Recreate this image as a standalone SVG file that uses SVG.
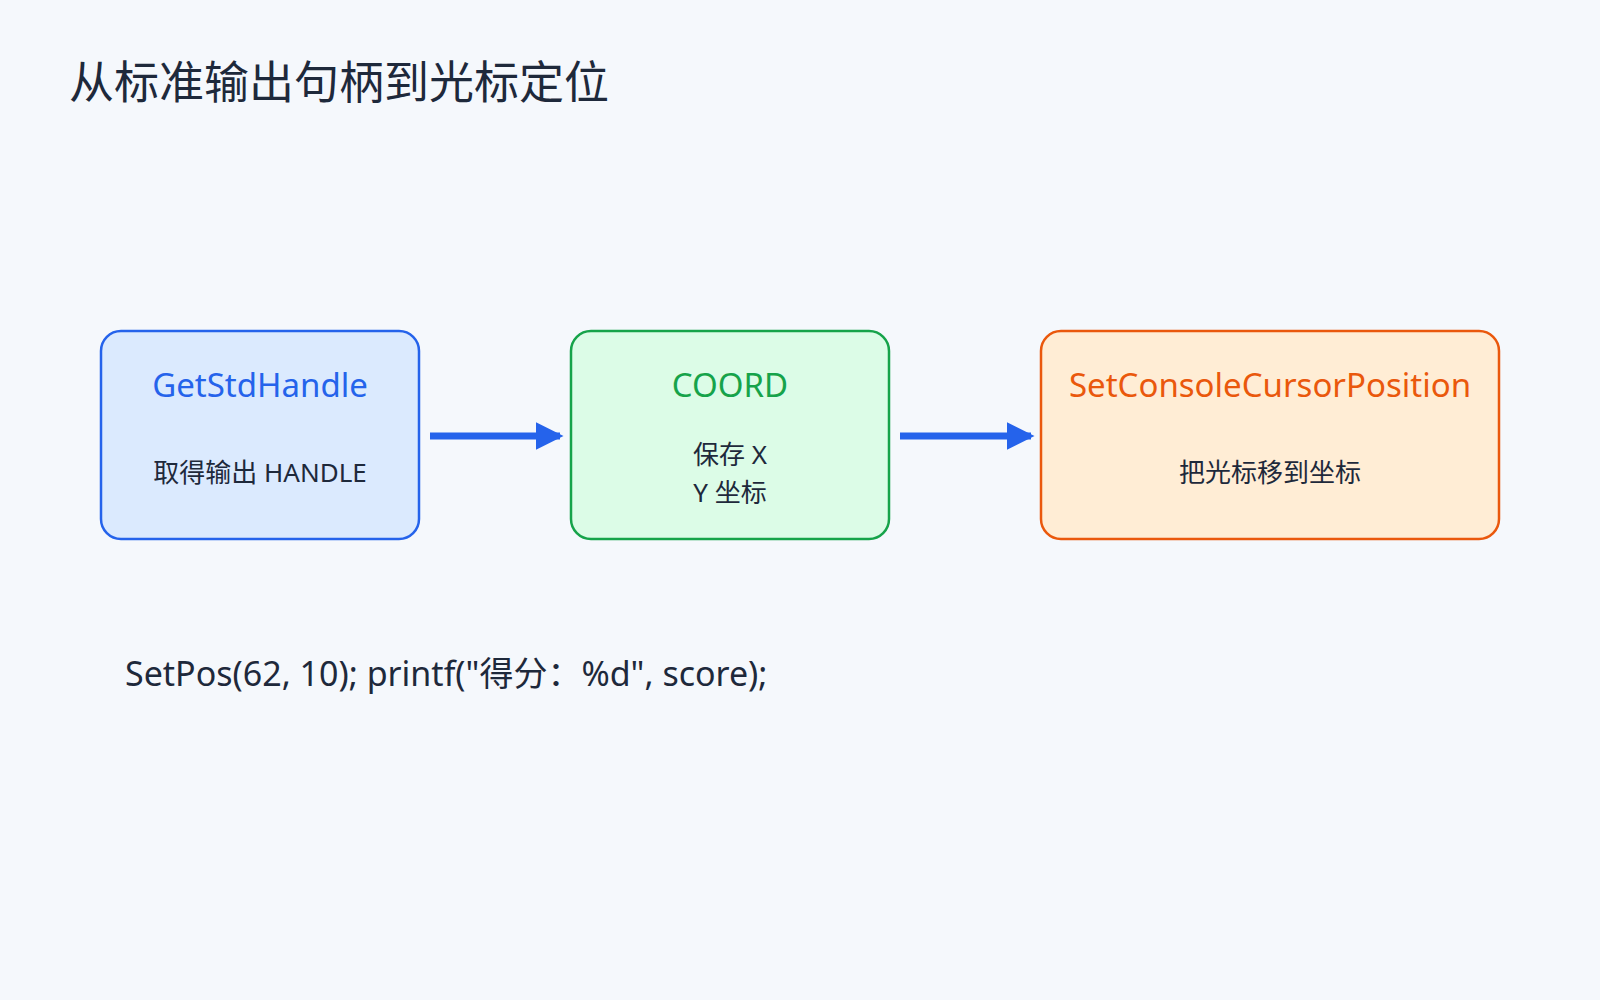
<svg xmlns="http://www.w3.org/2000/svg" width="1600" height="1000" viewBox="0 0 1600 1000">
<style>
text{font-family:"Noto Sans","Noto Sans CJK SC",sans-serif;fill:#1e293b}
.t{font-size:33px;text-anchor:middle}
.s{font-size:26px;text-anchor:middle}
.c{stroke:#2563eb;stroke-width:7;fill:none}
</style>
<defs><marker id="a" markerWidth="4" markerHeight="4" refX="3.5" refY="2" orient="auto" markerUnits="strokeWidth"><path d="M0,0L4,2L0,4z" fill="#2563eb"/></marker></defs>
<rect width="1600" height="1000" fill="#f5f8fc"/>
<text x="69" y="99" style="font-size:45px">从标准输出句柄到光标定位</text>
<g id="n1"><rect x="101" y="331" width="318" height="208" rx="20" fill="#dbeafe" stroke="#2563eb" stroke-width="2.5"/>
<text class="t" x="260" y="397" style="fill:#2563eb">GetStdHandle</text>
<text class="s" x="260" y="482">取得输出 HANDLE</text></g>
<g id="n2"><rect x="571" y="331" width="318" height="208" rx="20" fill="#dcfce7" stroke="#16a34a" stroke-width="2.5"/>
<text class="t" x="730" y="397" style="fill:#16a34a">COORD</text>
<text class="s" x="730" y="464">保存 X</text>
<text class="s" x="730" y="502">Y 坐标</text></g>
<g id="n3"><rect x="1041" y="331" width="458" height="208" rx="20" fill="#ffedd5" stroke="#ea580c" stroke-width="2.5"/>
<text class="t" x="1270" y="397" style="fill:#ea580c">SetConsoleCursorPosition</text>
<text class="s" x="1270" y="482">把光标移到坐标</text></g>
<g id="edges"><line class="c" x1="430" y1="436" x2="560" y2="436" marker-end="url(#a)"/>
<line class="c" x1="900" y1="436" x2="1031" y2="436" marker-end="url(#a)"/></g>
<text x="125" y="686" style="font-size:34px">SetPos(62, 10); printf("得分：%d", score);</text>
</svg>
